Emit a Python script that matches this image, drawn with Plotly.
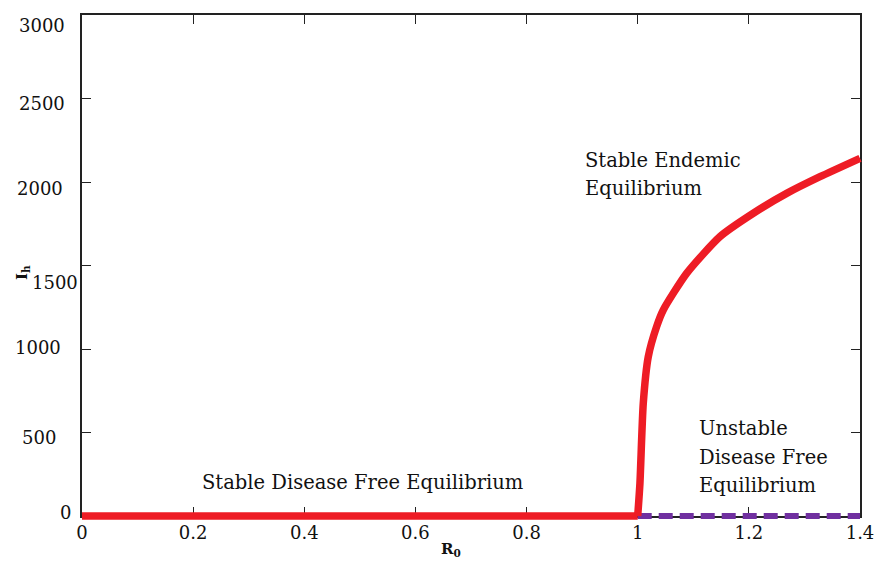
import plotly.graph_objects as go

# Stable disease-free branch (R0 < 1)
dfe_x = [0.0, 1.0]
dfe_y = [0, 0]
# Stable endemic branch (R0 > 1)
end_x = [1.0, 1.004, 1.010, 1.019, 1.034, 1.046, 1.088, 1.148, 1.208, 1.268, 1.328, 1.4]
end_y = [0, 196, 675, 954, 1134, 1234, 1453, 1673, 1813, 1932, 2032, 2142]
# Unstable disease-free branch
udfe_x = [1.0, 1.4]
udfe_y = [0, 0]

x_ticks = [0, 0.2, 0.4, 0.6, 0.8, 1, 1.2, 1.4]
x_labels = ["0", "0.2", "0.4", "0.6", "0.8", "1", "1.2", "1.4"]
y_ticks = [0, 500, 1000, 1500, 2000, 2500, 3000]
y_labels = ["0", "500", "1000", "1500", "2000", "2500", "3000"]

# per-label pixel placement of the y tick labels (as in the original figure)
y_label_right = [73, 58, 63, 80, 65, 67, 67]
y_label_drop = [-4, 5, -2, 17, 6, 5, 10]

FONT = "DejaVu Serif"
RED = "#EE1C25"
PURPLE = "#7030A0"

# layout geometry (pixels)
W, H = 876, 564
L, R, T, B = 82, 6, 15, 36          # outer margins (trace area)
AX_R, AX_B = 860, 516               # visible frame right / bottom
pw, ph = W - L - R, H - T - B
XMAX, YMAX = 1.4, 3000
px_x = (AX_R - L) / XMAX
px_y = (AX_B - T) / YMAX
x2max = pw / px_x
y2min = -((H - B) - AX_B) / px_y

fig = go.Figure()
# empty trace so the visible frame axes get drawn
fig.add_trace(go.Scatter(x=[None], y=[None], mode="lines", xaxis="x", yaxis="y",
                         hoverinfo="skip"))
tr_axes = dict(xaxis="x2", yaxis="y2")
fig.add_trace(go.Scatter(x=udfe_x, y=udfe_y, mode="lines", **tr_axes,
                         line=dict(color=PURPLE, width=6, dash="14px,7px")))
fig.add_trace(go.Scatter(x=dfe_x, y=dfe_y, mode="lines", **tr_axes,
                         line=dict(color=RED, width=7.5)))
fig.add_trace(go.Scatter(x=end_x, y=end_y, mode="lines", **tr_axes,
                         line=dict(color=RED, width=7.5, shape="spline", smoothing=0.6)))

axis_common = dict(showgrid=False, zeroline=False, showline=True, linecolor="#222",
                   linewidth=1.5, mirror="ticks", ticks="inside", ticklen=9,
                   tickcolor="#222", tickwidth=1.2, layer="below traces", automargin=False,
                   tickfont=dict(family=FONT, size=18, color="#111"))

fig.update_layout(
    width=W, height=H,
    margin=dict(l=L, r=R, t=T, b=B, autoexpand=False),
    paper_bgcolor="white", plot_bgcolor="rgba(0,0,0,0)",
    showlegend=False,
    xaxis=dict(range=[0, XMAX], domain=[0, (AX_R - L) / pw], anchor="y",
               tickvals=x_ticks, ticktext=x_labels, **axis_common),
    yaxis=dict(range=[0, YMAX], domain=[((H - B) - AX_B) / ph, 1], anchor="x",
               tickvals=y_ticks, showticklabels=False, **axis_common),
    xaxis2=dict(range=[0, x2max], domain=[0, 1], anchor="y2", visible=False),
    yaxis2=dict(range=[y2min, YMAX], domain=[0, 1], anchor="x2", visible=False),
)

# y tick labels, placed at the axis values
for val, txt, rx, dy in zip(y_ticks, y_labels, y_label_right, y_label_drop):
    fig.add_annotation(xref="paper", yref="y", x=0, y=val, xanchor="right",
                       yanchor="middle", xshift=rx - L, yshift=-dy, showarrow=False,
                       text=txt, font=dict(family=FONT, size=18, color="#111"))

ann_font = dict(family=FONT, size=19.5, color="#111")
def px(xp, yp):
    return dict(xref="paper", yref="paper", x=(xp - L) / pw, y=((H - B) - yp) / ph)

labels = [
    ("Stable Disease Free Equilibrium", 200, 482),
    ("Stable Endemic", 583, 160),
    ("Equilibrium", 583, 188),
    ("Unstable", 697, 428),
    ("Disease Free", 697, 457),
    ("Equilibrium", 697, 485),
]
for txt, xp, yp in labels:
    fig.add_annotation(**px(xp, yp), xanchor="left", yanchor="middle", showarrow=False,
                       text=txt, font=ann_font)

# axis titles
fig.add_annotation(**px(451, 550), xanchor="center", yanchor="middle", showarrow=False,
                   text="<b>R<sub>0</sub></b>", font=dict(family=FONT, size=15, color="#111"))
fig.add_annotation(**px(22, 272), xanchor="center", yanchor="middle", showarrow=False,
                   textangle=-90, text="<b>I<sub>h</sub></b>",
                   font=dict(family=FONT, size=15, color="#111"))

fig.write_html("out.html")
